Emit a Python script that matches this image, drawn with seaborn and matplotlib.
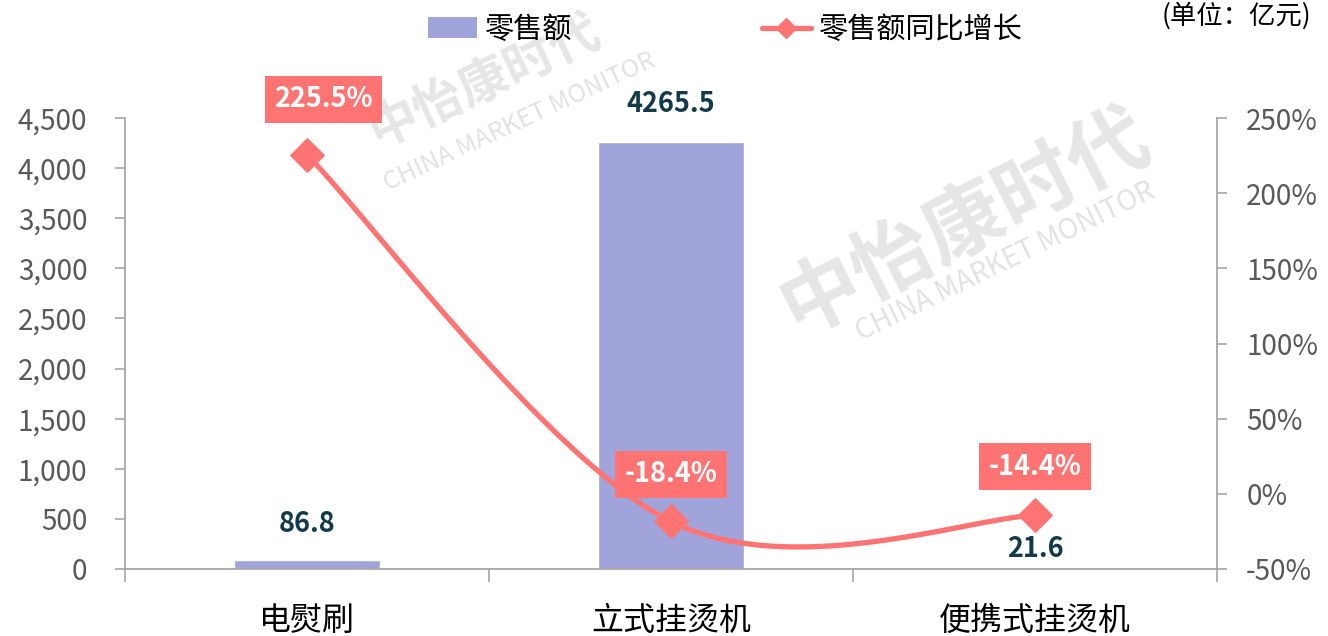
import numpy as np
import matplotlib
matplotlib.use("Agg")
import matplotlib.pyplot as plt
from matplotlib.patches import Patch
from matplotlib.lines import Line2D
import seaborn as sns

# ---- data ----
categories = ["电熨刷", "立式挂烫机", "便携式挂烫机"]
sales = [86.8, 4265.5, 21.6]            # 零售额 (亿元)
growth = [225.5, -18.4, -14.4]          # 零售额同比增长 (%)
left_ticks = [0, 500, 1000, 1500, 2000, 2500, 3000, 3500, 4000, 4500]
right_ticks = [-50, 0, 50, 100, 150, 200, 250]

BAR = "#A1A3DB"
LINE = "#FF7373"
LABEL_DARK = "#123A4A"
TICK = "#595959"
AXC = "#A6A6A6"

sns.set_theme(style="white")
plt.rcParams["font.family"] = ["Noto Sans CJK SC", "DejaVu Sans"]
plt.rcParams["axes.unicode_minus"] = False

fig = plt.figure(figsize=(13.28, 6.36), dpi=100)
fig.patch.set_facecolor("white")

# watermark (drawn in a background axes so it stays behind everything)
bg = fig.add_axes([0, 0, 1, 1], zorder=-10)
bg.set_axis_off()
bg.set_xlim(0, 1328)
bg.set_ylim(636, 0)
wm = "#D6D6D6"
bg.text(485, 82, "中怡康时代", fontsize=36, fontweight="bold", color=wm,
        rotation=25, ha="center", va="center", alpha=0.6)
bg.text(520, 122, "CHINA MARKET MONITOR", fontsize=18, color=wm,
        rotation=25, ha="center", va="center", alpha=0.7)
bg.text(965, 222, "中怡康时代", fontsize=58, fontweight="bold", color=wm,
        rotation=27, ha="center", va="center", alpha=0.6)
bg.text(1005, 262, "CHINA MARKET MONITOR", fontsize=20, color=wm,
        rotation=26, ha="center", va="center", alpha=0.7)

ax = fig.add_axes([125/1328, 67/636, 1092/1328, 451/636])
ax.set_facecolor("none")

# bars
sns.barplot(x=categories, y=sales, ax=ax, color=BAR, width=0.4, saturation=1, zorder=2)
ax.set_xlim(-0.5, 2.5)
ax.set_ylim(0, 4500)
ax.set_yticks(left_ticks)
ax.set_yticklabels([f"{v:,}" for v in left_ticks])
ax.tick_params(axis="y", colors=AXC, labelcolor=TICK, labelsize=20, length=7, width=1.2,
               direction="out", pad=20, left=True)
ax.set_xticks(range(len(categories)))
ax.set_xticklabels(categories)
ax.set_xticks([-0.5, 0.5, 1.5, 2.5], minor=True)
ax.tick_params(axis="x", which="major", length=0, labelsize=23, labelcolor="black", pad=26)
ax.tick_params(axis="x", which="minor", length=9, width=1.2, color=AXC, bottom=True)
for s in ["top", "right"]:
    ax.spines[s].set_visible(False)
for s in ["left", "bottom"]:
    ax.spines[s].set_color(AXC)
    ax.spines[s].set_linewidth(1.3)
ax.set_xlabel("")
ax.set_ylabel("")

# bar labels
bar_offsets = [16, 17, 3]
for i, v in enumerate(sales):
    ax.annotate(f"{v}", (i, v), xytext=(0, bar_offsets[i]), textcoords="offset points",
                ha="center", va="bottom", fontsize=19.5, fontweight="bold", color=LABEL_DARK)

# line on secondary axis (smoothed like Excel via Catmull-Rom)
ax2 = ax.twinx()
ax2.set_ylim(-50, 250)
ax2.set_yticks(right_ticks)
ax2.set_yticklabels([f"{v}%" for v in right_ticks])
ax2.tick_params(axis="y", colors=AXC, labelcolor=TICK, labelsize=20, length=7, width=1.2,
                direction="out", pad=14, right=True)
for s in ["top", "left", "bottom"]:
    ax2.spines[s].set_visible(False)
ax2.spines["right"].set_color(AXC)
ax2.spines["right"].set_linewidth(1.3)
ax2.grid(False)
ax.grid(False)

xs = np.arange(len(growth), dtype=float)
ys = np.array(growth, dtype=float)
P = np.column_stack([xs, ys])
Pext = np.vstack([P[0], P, P[-1]])
curve = []
for k in range(1, len(Pext) - 2):
    p0, p1, p2, p3 = Pext[k-1], Pext[k], Pext[k+1], Pext[k+2]
    t = np.linspace(0, 1, 60)[:, None]
    c = 0.5 * ((2*p1) + (-p0 + p2)*t + (2*p0 - 5*p1 + 4*p2 - p3)*t**2 + (-p0 + 3*p1 - 3*p2 + p3)*t**3)
    curve.append(c)
curve = np.vstack(curve)
ax2.plot(curve[:, 0], curve[:, 1], color=LINE, lw=3.8, zorder=3, solid_capstyle="round")
sns.scatterplot(x=xs, y=ys, ax=ax2, marker="D", s=280, color=LINE, edgecolor=LINE, zorder=4)

line_offsets = [(12, 40), (0, 34), (0, 35)]
for i, v in enumerate(growth):
    ax2.annotate(f"{v}%", (i, v), xytext=line_offsets[i], textcoords="offset points",
                 ha="center", va="center", fontsize=19.5, fontweight="bold", color="white",
                 bbox=dict(boxstyle="square,pad=0.35", fc=LINE, ec="none"), zorder=5)

# legend
handles = [Patch(facecolor=BAR, edgecolor="none"),
           Line2D([], [], color=LINE, lw=3.8, marker="D", markersize=10)]
fig.legend(handles, ["零售额", "零售额同比增长"], loc="center", bbox_to_anchor=(0.546, 0.953),
           ncol=2, frameon=False, fontsize=21, handlelength=1.7, handletextpad=0.25,
           columnspacing=6.5, labelcolor="black")

fig.text(1162/1328, 1-16/636, "(单位：亿元)", fontsize=19, color="black", ha="left", va="center")

fig.savefig("out.png", dpi=100)
